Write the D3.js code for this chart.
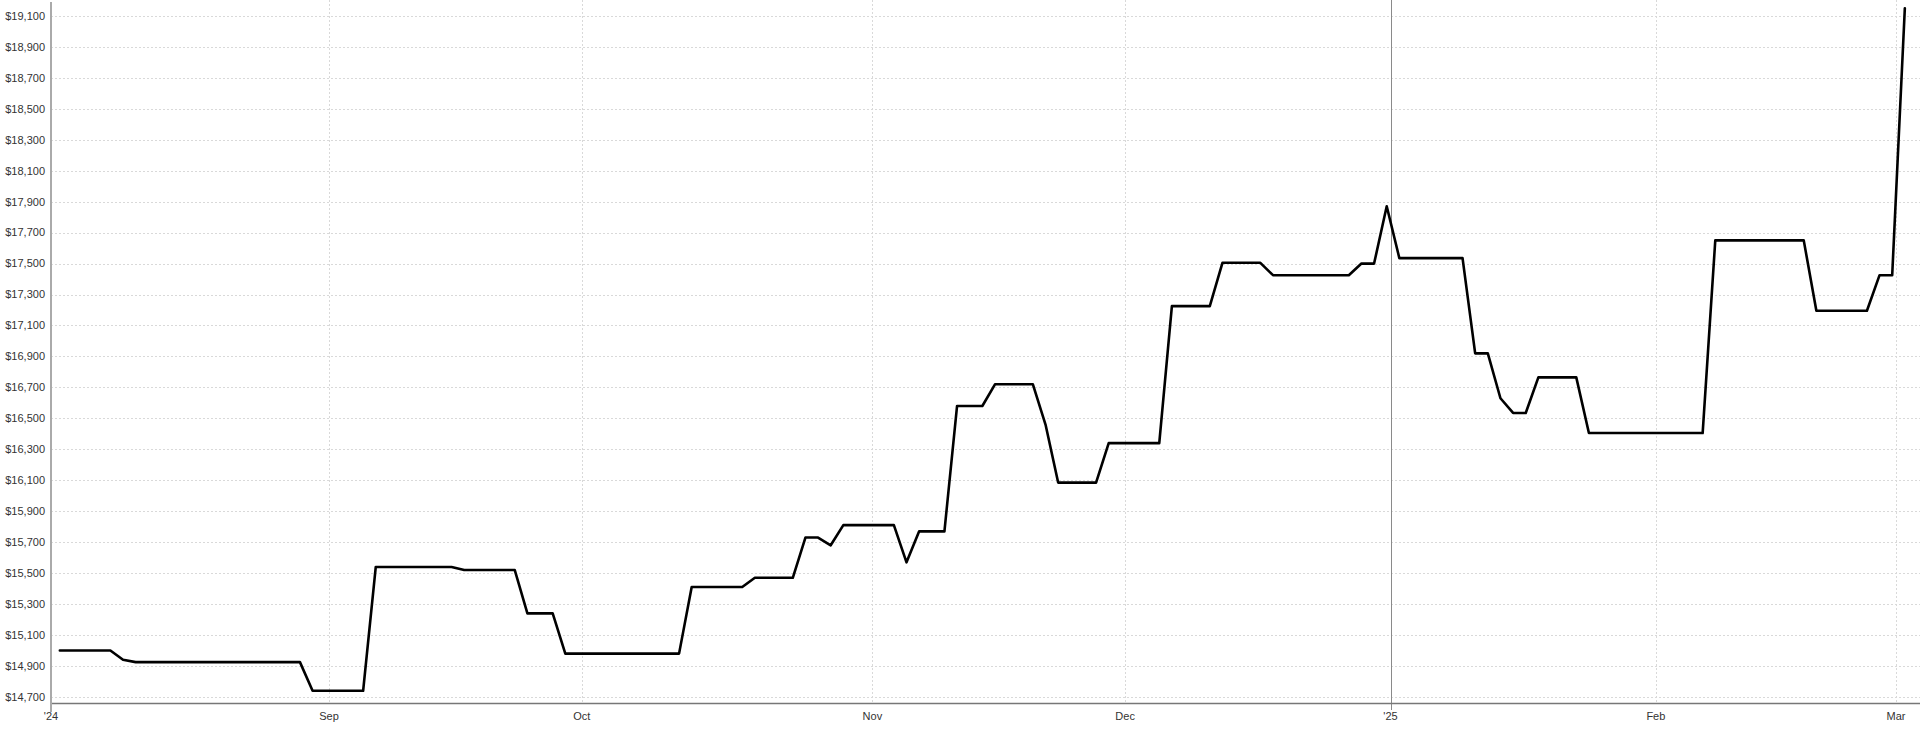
<!DOCTYPE html>
<html>
<head>
<meta charset="utf-8">
<script src="https://cdn.jsdelivr.net/npm/d3@7"></script>
<style>
  html, body { margin: 0; padding: 0; background: #fff; }
  svg { display: block; }
  text { font-family: "Liberation Sans", Arial, sans-serif; }
</style>
</head>
<body>
<svg id="chart" width="1920" height="734"></svg>
<script>
// ---- data ----
const dates = [
  "2024-08-01","2024-08-07","2024-08-08","2024-08-09","2024-08-28","2024-08-29",
  "2024-09-05","2024-09-06","2024-09-16","2024-09-17","2024-09-23","2024-09-24",
  "2024-09-26","2024-09-27","2024-10-10","2024-10-11","2024-10-17","2024-10-18",
  "2024-10-23","2024-10-24","2024-10-25","2024-10-28","2024-10-29","2024-11-04",
  "2024-11-05","2024-11-06","2024-11-08","2024-11-11","2024-11-13","2024-11-14",
  "2024-11-19","2024-11-20","2024-11-21","2024-11-26","2024-11-27","2024-12-04",
  "2024-12-05","2024-12-10","2024-12-11","2024-12-16","2024-12-17","2024-12-26",
  "2024-12-27","2024-12-30","2024-12-31","2025-01-02","2025-01-09","2025-01-10",
  "2025-01-13","2025-01-14","2025-01-15","2025-01-16","2025-01-17","2025-01-23",
  "2025-01-24","2025-02-06","2025-02-07","2025-02-19","2025-02-20","2025-02-26",
  "2025-02-27","2025-02-28","2025-03-03"
];
const prices = [
  15000,15000,14940,14925,14925,14740,
  14740,15540,15540,15520,15520,15240,
  15240,14980,14980,15410,15410,15470,
  15470,15730,15730,15680,15810,15810,
  15570,15770,15770,16580,16580,16720,
  16720,16460,16085,16085,16340,16340,
  17225,17225,17505,17505,17425,17425,
  17500,17500,17870,17535,17535,16920,
  16920,16630,16535,16535,16765,16765,
  16405,16405,17650,17650,17195,17195,
  17425,17425,19150
];
const holidays = ["2024-09-02","2024-11-28","2024-12-25","2025-01-01","2025-01-20","2025-02-17"];
const tickDates = ["2024-08-01","2024-09-01","2024-10-01","2024-11-01","2024-12-01","2025-01-01","2025-02-01","2025-03-01"];
const tickLabels = ["'24","Sep","Oct","Nov","Dec","'25","Feb","Mar"];
const yTicks = d3.range(14700, 19101, 200);
const yearBreak = "2025-01-01";

(function () {
  // ---- trading-day axis ----
  const start = new Date("2024-08-01T00:00:00");
  const holidaySet = new Set(holidays);
  const fmt = d3.timeFormat("%Y-%m-%d");
  function tradingIndex(ds) {
    const target = new Date(ds + "T00:00:00");
    let n = 0;
    for (let d = new Date(start); d < target; d.setDate(d.getDate() + 1)) {
      const wd = d.getDay();
      if (wd === 0 || wd === 6) continue;
      if (holidaySet.has(fmt(d))) continue;
      n++;
    }
    return n;
  }
  const pointOffset = 0.7;

  const mLeft = 51, mRight = 1920, mTop = 2, mBottom = 703;
  const svg = d3.select("#chart");

  const x = d3.scaleLinear().domain([0, 147.9]).range([mLeft, mRight]);
  const y = d3.scaleLinear().domain([14661, 19190]).range([mBottom, mTop]);

  // horizontal grid
  svg.append("g").selectAll("line").data(yTicks).join("line")
    .attr("x1", mLeft).attr("x2", mRight)
    .attr("y1", d => Math.round(y(d)) + 0.5).attr("y2", d => Math.round(y(d)) + 0.5)
    .attr("stroke", "#d9d9d9").attr("stroke-width", 1).attr("stroke-dasharray", "2,2");

  const ticks = tickDates.map((d, i) => ({ d, label: tickLabels[i], xi: tradingIndex(d) }));

  // vertical grid
  svg.append("g").selectAll("line").data(ticks.filter(t => t.d !== yearBreak && t.xi > 0)).join("line")
    .attr("x1", t => Math.round(x(t.xi)) + 0.5).attr("x2", t => Math.round(x(t.xi)) + 0.5)
    .attr("y1", 0).attr("y2", mBottom)
    .attr("stroke", "#d9d9d9").attr("stroke-width", 1).attr("stroke-dasharray", "2,2");

  // year break line
  const yb = ticks.find(t => t.d === yearBreak);
  svg.append("line")
    .attr("x1", Math.round(x(yb.xi)) + 0.5).attr("x2", Math.round(x(yb.xi)) + 0.5)
    .attr("y1", 0).attr("y2", 710)
    .attr("stroke", "#8a8a8a").attr("stroke-width", 1);

  // x axis line
  svg.append("line").attr("x1", mLeft).attr("x2", mRight)
    .attr("y1", mBottom + 0.5).attr("y2", mBottom + 0.5)
    .attr("stroke", "#777").attr("stroke-width", 1.5);

  // y axis line
  svg.append("line").attr("x1", mLeft).attr("x2", mLeft)
    .attr("y1", mTop).attr("y2", 712)
    .attr("stroke", "#aaa").attr("stroke-width", 2);

  // y labels
  svg.append("g").selectAll("text").data(yTicks).join("text")
    .attr("x", 45).attr("y", d => y(d)).attr("dy", "0.35em")
    .attr("text-anchor", "end").attr("font-size", 11).attr("fill", "#333")
    .text(d => "$" + d3.format(",")(d));

  // x labels
  svg.append("g").selectAll("text").data(ticks).join("text")
    .attr("x", t => x(t.xi)).attr("y", 720)
    .attr("text-anchor", "middle").attr("font-size", 11).attr("fill", "#333")
    .text(t => t.label);

  // line
  const pts = dates.map((d, i) => ({ xi: tradingIndex(d) + pointOffset, v: prices[i] }));
  const line = d3.line().x(p => x(p.xi)).y(p => y(p.v));
  svg.append("path").datum(pts)
    .attr("d", line).attr("fill", "none")
    .attr("stroke", "#000").attr("stroke-width", 2.6)
    .attr("stroke-linejoin", "round").attr("stroke-linecap", "round");
})();
</script>
</body>
</html>
